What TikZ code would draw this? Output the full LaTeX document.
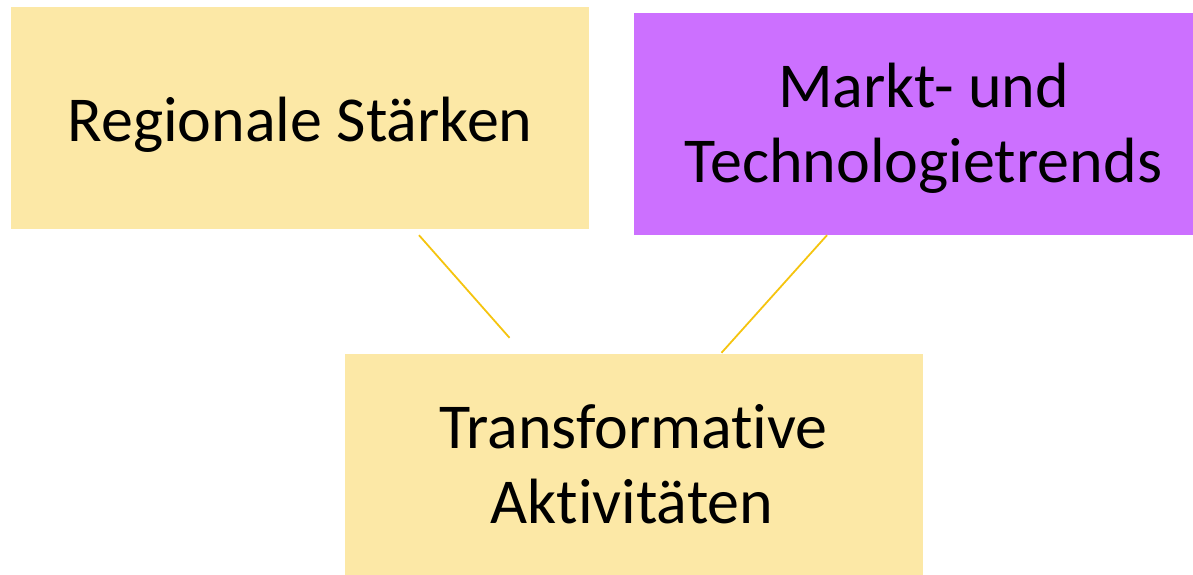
\documentclass[tikz,border=0pt]{standalone}
\usepackage{fontspec}
\setmainfont{Carlito}[Ligatures=NoCommon]
\definecolor{boxyellow}{HTML}{FCE8A6}
\definecolor{boxpurple}{HTML}{CC70FF}
\definecolor{linegold}{HTML}{F5C40F}
\begin{document}
\begin{tikzpicture}[x=1pt,y=-1pt,
  box/.style={minimum width=578pt,minimum height=222pt,inner sep=0pt},
  txt/.style={anchor=base,inner sep=0pt,font=\fontsize{64}{76}\selectfont},
  conn/.style={draw=linegold,line width=1.8pt}]
\clip (0,0) rectangle (1193,575);
\node[box,fill=boxyellow] (b1) at (300,118) {};
\node[box,fill=boxpurple] (b2) at (923,124) {};
\node[box,fill=boxyellow] (b3) at (633.5,465) {};
\node[txt] (t1) at (300,142) {Regionale Stärken};
\node[txt] (t2a) at (923.5,107) {Markt- und};
\node[txt] (t2b) at (923.5,182) {Technologietrends};
\node[txt] (t3a) at (633.5,448) {Transformative};
\node[txt] (t3b) at (632,523) {Aktivitäten};
\coordinate (l1a) at ([shift={(119,6)}]b1.south);
\coordinate (l1b) at ([shift={(-124,-16)}]b3.north);
\coordinate (l2a) at ([shift={(-96,0)}]b2.south);
\coordinate (l2b) at ([shift={(88,-1)}]b3.north);
\draw[conn] (l1a) -- (l1b);
\draw[conn] (l2a) -- (l2b);
\end{tikzpicture}
\end{document}
